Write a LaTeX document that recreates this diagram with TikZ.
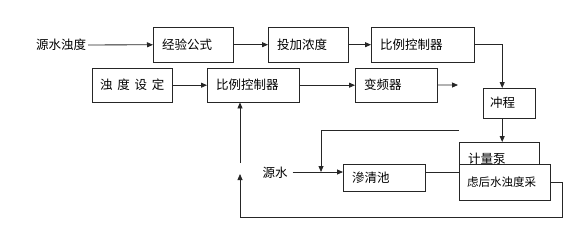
\documentclass[tikz,border=0pt]{standalone}
\usepackage{fontspec}
\setmainfont{Noto Sans CJK SC}
\usepackage{tikz}
\usetikzlibrary{positioning,arrows.meta,calc}

\begin{document}
\begin{tikzpicture}[x=1pt, y=-1pt,
    blk/.style={rectangle, draw=black!85, fill=white, anchor=north west,
                inner xsep=9pt, inner ysep=0pt, align=left,
                font=\fontsize{12.5}{14}\selectfont},
    lbl/.style={inner sep=2pt, font=\fontsize{12.5}{14}\selectfont},
    ln/.style={draw=black!85, line width=0.8pt},
    arr/.style={ln, -{Triangle[length=6pt, width=5pt]}}
]
    \useasboundingbox (0,0) rectangle (586,238);
    % top row
    \node[lbl] (src) at (61,45) {源水浊度};
    \node[blk, text width=62pt, minimum height=35pt] (exp) at (153,27) {经验公式};
    \node[blk, text width=62pt, minimum height=35pt] (dose) at (268,27) {投加浓度};
    \node[blk, text width=85pt, minimum height=35pt] (ctlA) at (371,27) {比例控制器};
    % second row
    \node[blk, text width=76pt, minimum height=34pt, inner xsep=2pt, align=center] (set) at (92,68) {浊\hspace{0.38em}度\hspace{0.38em}设\hspace{0.38em}定};
    \node[blk, text width=74pt, minimum height=34pt] (ctlB) at (207,68) {比例控制器};
    \node[blk, text width=64pt, minimum height=34pt] (vfd) at (355,68) {变频器};
    \coordinate (vfdout) at (458,85);
    % right column
    \node[blk, text width=38pt, minimum height=30pt, inner xsep=7pt] (stroke) at (483,88) {冲程};
    \node[blk, text width=62pt, minimum height=34pt] (pump) at (459,142) {计量泵};
    \node[blk, text width=75pt, minimum height=36pt, inner xsep=8pt,
          font=\fontsize{11.5}{13}\selectfont] (turb) at (459,164) {虑后水浊度采};
    % bottom row
    \node[lbl, inner xsep=5pt] (raw) at (275,173) {源水};
    \node[blk, text width=64pt, minimum height=27pt] (pool) at (343,164) {\raisebox{-3pt}{滲清池}};
    \coordinate (feed) at (459,130);
    \coordinate (mix) at (321,172);
    \coordinate (fbc) at (240,217);
    \coordinate (fbt) at (240,174);
    \coordinate (fbm) at (240,163);

    \draw[arr] (src) -- (exp);
    \draw[arr] (exp) -- (dose);
    \draw[arr] (dose) -- (ctlA);
    \draw[arr] (set) -- (ctlB);
    \draw[arr] (ctlB) -- (vfd);
    \draw[arr] (vfd) -- (vfdout);
    \draw[arr] (ctlA.east) -| ([xshift=-7pt]stroke.north);
    \draw[arr] ([xshift=-7pt]stroke.south) -- ([xshift=-7pt]stroke.south |- pump.north);
    \draw[arr] (feed) -| (mix);
    \draw[arr] (raw.east |- mix) -- (mix -| pool.west);
    \draw[ln] (mix -| pool.east) -- (mix -| turb.west);
    \draw[ln] (turb.east) -- ++(12,0) |- (fbc);
    \draw[arr] (fbc) -- (fbt);
    \draw[arr] (fbm) -- (fbm |- ctlB.south);
\end{tikzpicture}
\end{document}
